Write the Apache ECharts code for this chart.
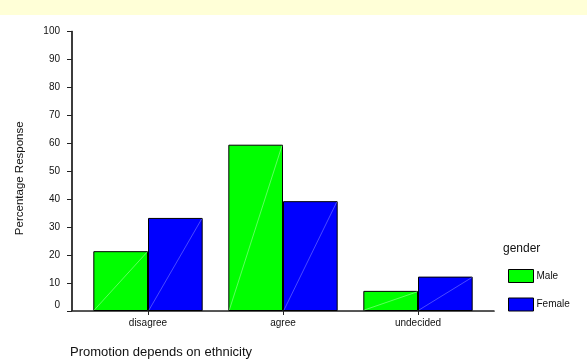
<!DOCTYPE html>
<html>
<head>
<meta charset="utf-8">
<script src="https://cdn.jsdelivr.net/npm/echarts@6/dist/echarts.min.js"></script>
<style>html,body{margin:0;padding:0;background:#fff}#c{width:587px;height:360px}</style>
</head>
<body>
<div id="c"></div>
<script>
var categories = ['disagree', 'agree', 'undecided'];
var maleValues = [21.4, 59.5, 7.2];
var femaleValues = [33.3, 39.3, 12.3];
var seriesNames = ['Male', 'Female'];
var yTicks = [0, 10, 20, 30, 40, 50, 60, 70, 80, 90, 100];

var FONT = 'Liberation Sans, Arial, sans-serif';
var GAP = 0.19;
var chart = echarts.init(document.getElementById('c'), null, {renderer: 'canvas'});

function diag(offsetSign, lineColor) {
  return function (params, api) {
    var cat = api.value(0), val = api.value(1);
    var top = api.coord([cat, val]);
    var base = api.coord([cat, 0]);
    var band = api.size([1, 0])[0];
    var w = band * (1 - GAP) / 2;
    var x0 = offsetSign < 0 ? top[0] - w : top[0];
    var x1 = x0 + w;
    return {
      type: 'line',
      shape: {x1: x0 + 1, y1: base[1] - 1, x2: x1 - 1, y2: top[1] + 1},
      style: {stroke: lineColor, lineWidth: 0.6},
      silent: true
    };
  };
}

var option = {
  animation: false,
  textStyle: {fontFamily: FONT},
  graphic: [{
    type: 'rect', left: 0, top: 0, z: -10,
    shape: {width: 587, height: 15},
    style: {fill: '#FFFFD7'}
  }, {
    type: 'text', left: 70, top: 346,
    style: {text: 'Promotion depends on ethnicity', fontSize: 13, fill: '#111', fontFamily: FONT}
  }],
  title: {
    text: 'gender', left: 498, top: 238,
    textStyle: {fontSize: 12, fontWeight: 'normal', color: '#111', fontFamily: FONT}
  },
  legend: {
    data: seriesNames, orient: 'vertical', left: 503, top: 264,
    itemWidth: 25, itemHeight: 13, itemGap: 14.5, icon: 'rect',
    itemStyle: {borderColor: '#000', borderWidth: 1},
    textStyle: {fontSize: 10, color: '#111', fontFamily: FONT, padding: [0, 0, 0, -2]}
  },
  grid: [
    {left: 72, right: 93, top: 31.5, bottom: 49},
    {left: 80.5, right: 101.5, top: 31.5, bottom: 49}
  ],
  xAxis: [
    {gridIndex: 0, type: 'value', min: 0, max: 1, position: 'bottom',
     axisLine: {show: true, lineStyle: {color: '#222', width: 1.5}},
     axisTick: {show: false}, axisLabel: {show: false}, splitLine: {show: false}},
    {gridIndex: 0, type: 'value', min: 0, max: 1, position: 'top',
     axisLine: {show: true, lineStyle: {color: '#555', width: 1.2}},
     axisTick: {show: false}, axisLabel: {show: false}, splitLine: {show: false}},
    {gridIndex: 1, type: 'category', data: categories, position: 'bottom',
     axisLine: {show: false},
     axisTick: {show: true, alignWithLabel: true, length: 4, lineStyle: {color: '#222'}},
     axisLabel: {fontSize: 10, color: '#111', margin: 7, fontFamily: FONT},
     splitLine: {show: false}}
  ],
  yAxis: [
    {gridIndex: 0, type: 'value', min: yTicks[0], max: yTicks[yTicks.length - 1], interval: 10,
     position: 'left',
     name: 'Percentage Response', nameLocation: 'middle', nameGap: 46,
     nameTextStyle: {fontSize: 11.5, color: '#111', fontFamily: FONT, padding: [0, 14, 0, 0]},
     axisLine: {show: true, lineStyle: {color: '#222', width: 1.5}},
     axisTick: {show: true, length: 5, lineStyle: {color: '#222'}},
     axisLabel: {fontSize: 10, color: '#111', margin: 12, fontFamily: FONT,
       formatter: function (v) { return v === 0 ? '{z|0}' : String(v); },
       rich: {z: {fontSize: 10, color: '#111', fontFamily: FONT, padding: [0, 0, 12, 0]}}},
     splitLine: {show: false}},
    {gridIndex: 0, type: 'value', min: 0, max: 100, position: 'right',
     axisLine: {show: true, lineStyle: {color: '#333', width: 1.5}},
     axisTick: {show: false}, axisLabel: {show: false}, splitLine: {show: false}},
    {gridIndex: 1, type: 'value', min: 0, max: 100, show: false}
  ],
  series: [
    {name: seriesNames[0], type: 'bar', xAxisIndex: 2, yAxisIndex: 2, data: maleValues,
     barGap: '0%', barCategoryGap: (GAP * 100) + '%',
     itemStyle: {color: '#00FF00', borderColor: '#000', borderWidth: 1}},
    {name: seriesNames[1], type: 'bar', xAxisIndex: 2, yAxisIndex: 2, data: femaleValues,
     barGap: '0%', barCategoryGap: (GAP * 100) + '%',
     itemStyle: {color: '#0000FF', borderColor: '#000', borderWidth: 1}},
    {name: 'maleDiag', type: 'custom', xAxisIndex: 2, yAxisIndex: 2, silent: true, z: 5,
     data: maleValues.map(function (v, i) { return [i, v]; }),
     renderItem: diag(-1, '#9CFF9C')},
    {name: 'femaleDiag', type: 'custom', xAxisIndex: 2, yAxisIndex: 2, silent: true, z: 5,
     data: femaleValues.map(function (v, i) { return [i, v]; }),
     renderItem: diag(1, '#7C7CFF')}
  ]
};
chart.setOption(option);
</script>
</body>
</html>
